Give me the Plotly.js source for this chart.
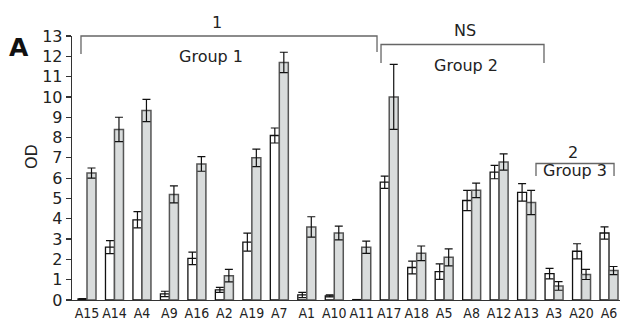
<!DOCTYPE html>
<html><head><meta charset="utf-8">
<script src="https://cdn.plot.ly/plotly-3.0.1.min.js"></script>
<style>body{margin:0;background:#fff}#c{width:621px;height:320px}</style>
</head><body><div id="c"></div>
<script>
const categories = ["A15","A14","A4","A9","A16","A2","A19","A7","A1","A10","A11","A17","A18","A5","A8","A12","A13","A3","A20","A6"];
const whiteVals = [0.05,2.6,3.95,0.3,2.05,0.5,2.85,8.1,0.25,0.2,0.02,5.8,1.6,1.4,4.9,6.3,5.3,1.3,2.4,3.3];
const whiteErr  = [0.02,0.32,0.4,0.13,0.31,0.12,0.44,0.37,0.13,0.05,0.0,0.3,0.31,0.38,0.5,0.33,0.43,0.26,0.37,0.3];
const greyVals  = [6.25,8.4,9.33,5.2,6.7,1.2,7.0,11.7,3.6,3.3,2.6,10.0,2.3,2.1,5.4,6.8,4.8,0.69,1.26,1.45];
const greyErr   = [0.25,0.6,0.55,0.42,0.36,0.31,0.43,0.5,0.5,0.34,0.3,1.6,0.36,0.42,0.36,0.4,0.6,0.21,0.25,0.2];
const yTicks = [0,1,2,3,4,5,6,7,8,9,10,11,12,13];

const L=72,R=620,T=36,B=300;
const px = x => (x-L)/(R-L);
const py = y => (B-y)/(B-T);
const FONT = "DejaVu Sans, Verdana, sans-serif";
const CFONT = "DejaVu Sans Condensed, DejaVu Sans, sans-serif";

const traces = [
  {type:'bar', x:categories, y:whiteVals, name:'white',
   marker:{color:'#ffffff', line:{color:'#111', width:1.3}},
   error_y:{type:'data', array:whiteErr, visible:true, color:'#111', thickness:1.2, width:4}},
  {type:'bar', x:categories, y:greyVals, name:'grey',
   marker:{color:'#d9dcdc', line:{color:'#555', width:1.5}},
   error_y:{type:'data', array:greyErr, visible:true, color:'#111', thickness:1.2, width:4}}
];

function path(pts){
  return pts.map((p,i)=>(i?'L':'M')+px(p[0]).toFixed(4)+','+py(p[1]).toFixed(4)).join(' ');
}
const bracketStyle = {color:'#666', width:1.3};
const shapes = [
  {type:'path', xref:'paper', yref:'paper', path:path([[81,54],[81,36],[377,36],[377,52]]), line:bracketStyle},
  {type:'path', xref:'paper', yref:'paper', path:path([[381,63],[381,44.5],[544,44.5],[544,63]]), line:bracketStyle},
  {type:'path', xref:'paper', yref:'paper', path:path([[536,176],[536,163.5],[614,163.5],[614,176]]), line:bracketStyle}
];
function ann(text,x,y,size,extra){
  return Object.assign({text:text, xref:'paper', yref:'paper', x:px(x), y:py(y), xanchor:'center', yanchor:'middle',
    showarrow:false, font:{family:FONT, size:size, color:'#222'}}, extra||{});
}
const annotations = [
  ann('1',217,23,16),
  ann('Group 1',211,56,16),
  ann('NS',465,31,16),
  ann('Group 2',466,65,16),
  ann('2',573,152,16),
  ann('Group 3',575,170,16),
  ann('<b>A</b>',19,48,25,{font:{family:FONT,size:25,color:'#111'}}),
  ann('OD',31,157,16,{textangle:-90})
];

const layout = {
  width:621, height:320,
  margin:{l:L, r:621-R, t:T, b:320-B, pad:0},
  paper_bgcolor:'#fff', plot_bgcolor:'#fff',
  barmode:'group', bargap:0.345, bargroupgap:0,
  showlegend:false,
  font:{family:FONT, color:'#222'},
  xaxis:{type:'category', range:[-0.546,19.40], showline:true, linecolor:'#333', linewidth:1.3,
    ticks:'', tickangle:0, automargin:false, showgrid:false, zeroline:false,
    tickfont:{family:CFONT,size:14,color:'#222'}, fixedrange:true},
  yaxis:{range:[0,13], tickvals:yTicks, ticktext:yTicks.map(String), showline:true, linecolor:'#333', linewidth:1.3,
    ticks:'outside', ticklen:5, tickcolor:'#333', tickwidth:1.2, showgrid:false, zeroline:false,
    tickfont:{family:FONT,size:16,color:'#222'}, fixedrange:true},
  shapes:shapes, annotations:annotations
};
Plotly.newPlot('c', traces, layout, {staticPlot:true, displayModeBar:false});
</script></body></html>
